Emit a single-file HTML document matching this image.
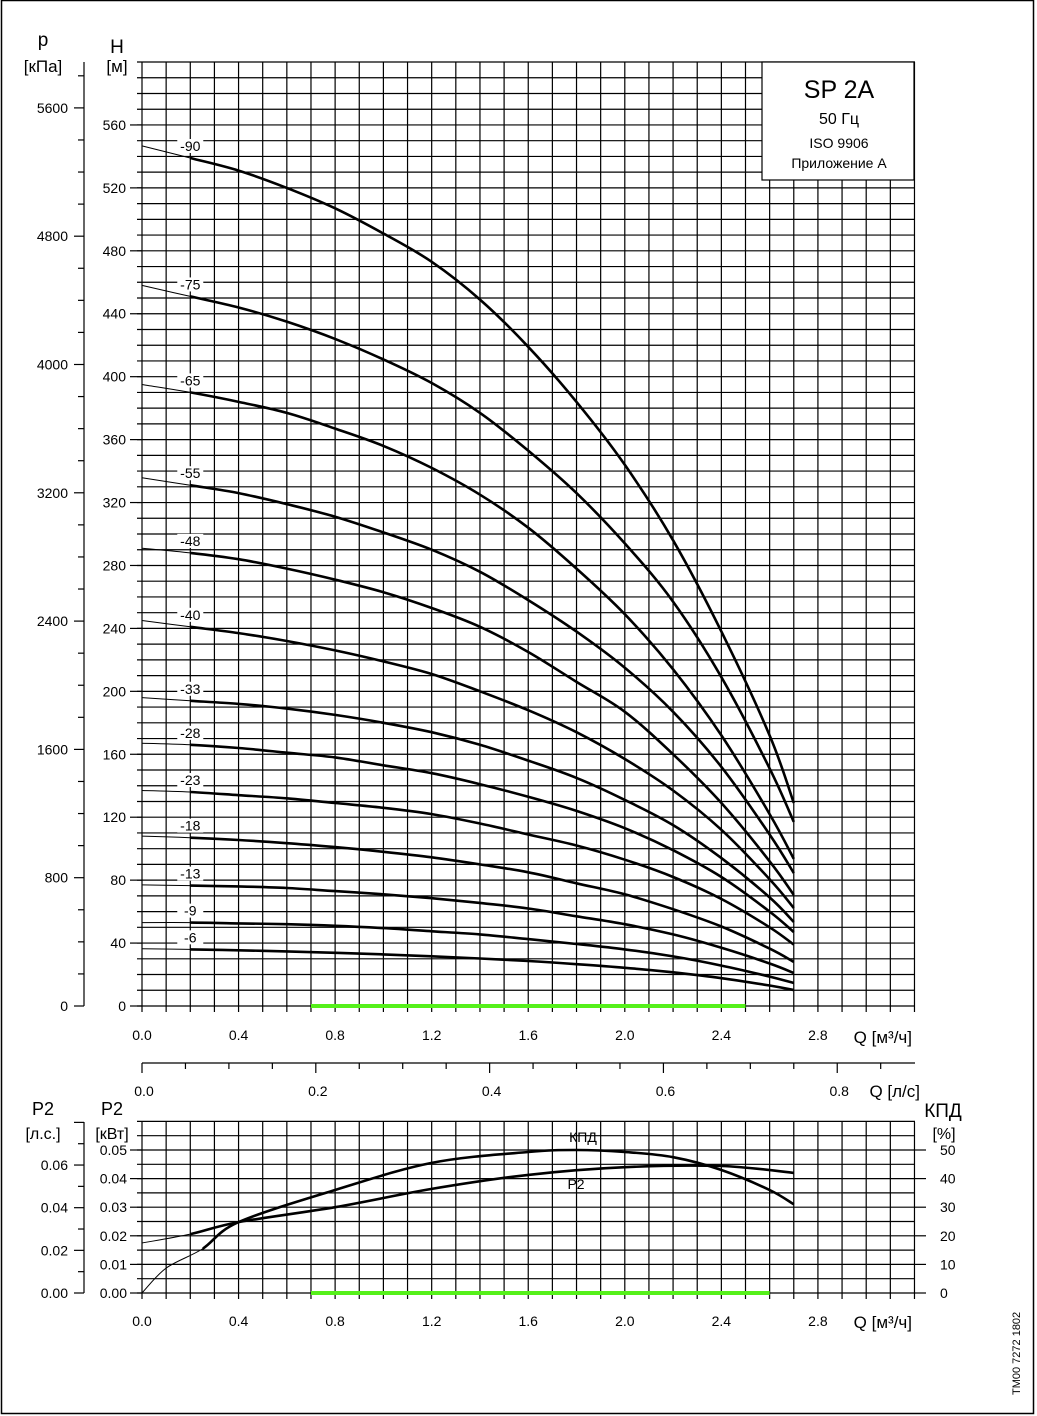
<!DOCTYPE html>
<html><head><meta charset="utf-8"><style>
html,body{margin:0;padding:0;background:#fff}
svg{display:block;font-family:"Liberation Sans",Arial,sans-serif}
</style></head><body>
<svg id="c" width="1037" height="1416" viewBox="0 0 1037 1416" xmlns="http://www.w3.org/2000/svg">
<rect x="1.5" y="0.5" width="1032" height="1413" fill="#fff" stroke="#000" stroke-width="1.5"/>
<defs id="defs"></defs>
<g id="grid"></g>
<g id="axes"></g>
<g id="marks"></g>
<g>
<rect x="762" y="62" width="152" height="118" fill="#fff" stroke="#000" stroke-width="1.2"/>
<text x="839" y="98" font-size="25" text-anchor="middle">SP 2A</text>
<text x="839" y="124" font-size="16" text-anchor="middle">50 Гц</text>
<text x="839" y="148" font-size="14" text-anchor="middle">ISO 9906</text>
<text x="839" y="168" font-size="14" text-anchor="middle">Приложение A</text>
</g>
<text x="43" y="46" font-size="19" text-anchor="middle">p</text>
<text x="43" y="72" font-size="17" text-anchor="middle">[кПа]</text>
<text x="117" y="72" font-size="17" text-anchor="middle">[м]</text>
<text x="117" y="53" font-size="19" text-anchor="middle">H</text>
<text x="912" y="1043" font-size="17" text-anchor="end">Q [м³/ч]</text>
<text x="920" y="1097" font-size="17" text-anchor="end">Q [л/с]</text>
<text x="912" y="1328" font-size="17" text-anchor="end">Q [м³/ч]</text>
<text x="43" y="1115" font-size="18" text-anchor="middle">P2</text>
<text x="43" y="1139" font-size="16" text-anchor="middle">[л.с.]</text>
<text x="112" y="1115" font-size="18" text-anchor="middle">P2</text>
<text x="112" y="1139" font-size="16" text-anchor="middle">[кВт]</text>
<text x="943" y="1117" font-size="19" text-anchor="middle">КПД</text>
<text x="944" y="1139" font-size="16" text-anchor="middle">[%]</text>
<text transform="translate(1020,1395) rotate(-90)" font-size="11">TM00 7272 1802</text>
</svg>
<script>
const qPts=[0,0.2,0.4,0.6,0.8,1.0,1.2,1.4,1.6,1.8,2.0,2.2,2.4,2.6,2.7];
const stageLabels=["-90","-75","-65","-55","-48","-40","-33","-28","-23","-18","-13","-9","-6"];
const h90=[546.7,539,531,520,507,491,473,449,419,384,344,296,238,172,129];
const h75=[458,451,444,435,424,411,396,377,353,326,294,257,209,151,117];
const h65=[395,390,384,377,367,356,342,325,304,278,249,214,172,122,93.5];
const h55=[335.7,331,326,319,311,301,290,276,258,238,215,187,152,109,84.5];
const h48=[291,288,284,278,271,263,253,241,225,206,187,160,129,92,70.6];
const h40=[245,241,237,232,226,219,211,200,188,174,157,137,112,80.6,62.3];
const h33=[196,194,192,189,185,180,174,166,156,145,131,115,94,69,53.4];
const h28=[167,166,164,161,158,153,148,141,133,124,113,99,82,60,47];
const h23=[137,136,134,132,129,126,122,116,109,102,93,82,68,50,39];
const h18=[108,107,105.5,103.5,101,98,94.5,90,85,78,71,61.5,50.5,36.5,28];
const h13=[77,76.5,76,75,73,71,68.5,65.5,62,57,52,45.5,37,27,21];
const h9=[53,53,52.5,52,51,49.5,47.5,45.5,42.5,39.4,36,31.5,25.7,18.7,14.6];
const h6=[36.4,36,35.4,34.7,33.8,32.8,31.6,30.2,28.6,26.6,24.3,21.4,17.7,13,10.2];
const headSeries=[h90,h75,h65,h55,h48,h40,h33,h28,h23,h18,h13,h9,h6];
const p2Q=[0,0.2,0.4,0.8,1.2,1.6,2.0,2.4,2.7];
const p2kW=[0.0175,0.0206,0.0248,0.030,0.0364,0.0413,0.044,0.0444,0.042];
const effQ=[0,0.1,0.25,0.4,0.8,1.2,1.6,1.8,2.0,2.2,2.4,2.6,2.7];
const effPct=[0,8.7,15.4,24.8,36,45.5,49.3,50,49.3,47.5,43,36,31];
const hTicks=[0,40,80,120,160,200,240,280,320,360,400,440,480,520,560];
const pTicks=[0,800,1600,2400,3200,4000,4800,5600];
const qTicks=[0.0,0.4,0.8,1.2,1.6,2.0,2.4,2.8];
const lsTicks=[0.0,0.2,0.4,0.6,0.8];
const kwTicks=[0.00,0.01,0.02,0.03,0.04,0.05];
const hpTicks=[0.00,0.02,0.04,0.06];
const effTicks=[0,10,20,30,40,50];
const opRangeMain=[0.7,2.5];
const opRangeBottom=[0.7,2.6];

const NS="http://www.w3.org/2000/svg";
const xs=q=>142+q*241.4;
const ys=h=>1006-h*1.5733;
const yk=k=>1293-k*2860;
const ye=e=>1293-e*2.86;
function el(tag,attrs,parent,txt){const e=document.createElementNS(NS,tag);for(const k in attrs)e.setAttribute(k,attrs[k]);if(txt!==undefined)e.textContent=txt;parent.appendChild(e);return e;}
const G=document.getElementById('grid'),A=document.getElementById('axes'),M=document.getElementById('marks'),D=document.getElementById('defs');
function line(p,x1,y1,x2,y2,w,name){const l=el('line',{x1,y1,x2,y2,stroke:'#000','stroke-width':w||1},p);

return l;}
function text(p,x,y,s,anchor,size,name){const t=el('text',{x,y,'font-size':size||14,'text-anchor':anchor||'middle'},p,s);

return t;}
for(let i=0;i<=32;i++){line(G,xs(i/10),62,xs(i/10),1012,1.2,'grid-v');}
for(let h=0;h<=600;h+=10){line(G,137,ys(h),915,ys(h),1.2,'grid-h');}
hTicks.forEach(h=>{line(A,130,ys(h),142,ys(h),1.2,'h-tick');text(A,126,ys(h)+5,String(h),'end',14,'h-tick-label');});
line(A,84,62,84,1006,1.2,'p-axis-line');
for(let p=0;p<=5800;p+=200){const y=ys(p/9.81);if(y<62)continue;const major=p%800===0;line(A,major?74:78,y,84,y,1.2,'p-tick');}
pTicks.forEach(p=>text(A,68,ys(p/9.81)+5,String(p),'end',14,'p-tick-label'));
qTicks.forEach(q=>text(A,xs(q),1040,q.toFixed(1),'middle',14,'q-tick-label'));
line(A,142,1063,915,1063,1.2,'ls-axis-line');
for(let i=0;i<=17;i++){const q=i*0.05*3.6;const major=i%4===0;line(A,xs(q),1063,xs(q),major?1073:1069,1.2,'ls-tick');}
lsTicks.forEach(l=>text(A,xs(l*3.6)+2,1096,l.toFixed(1),'middle',14,'ls-tick-label'));
for(let i=0;i<=32;i++){line(G,xs(i/10),1122,xs(i/10),1299,1.2,'grid-v-bottom');}
for(let k=0;k<=12;k++){line(G,137,1293-k*14.3,915,1293-k*14.3,1.2,'grid-h-bottom');}
kwTicks.forEach(k=>{line(A,130,yk(k),142,yk(k),1.2,'kw-tick');text(A,127,yk(k)+5,k.toFixed(2),'end',14,'kw-tick-label');});
line(A,84,1122,84,1293,1.2,'hp-axis-line');
for(let h=0;h<=0.08;h+=0.01){const y=yk(h*0.7457);if(y<1122)continue;line(A,Math.round(h*100)%2===0?74:78,y,84,y,1.2,'hp-tick');}
hpTicks.forEach(h=>text(A,68,yk(h*0.7457)+5,h.toFixed(2),'end',14,'hp-tick-label'));
effTicks.forEach(e=>{line(A,915,ye(e),926,ye(e),1.2,'eff-tick');text(A,940,ye(e)+5,String(e),'start',14,'eff-tick-label');});
qTicks.forEach(q=>text(A,xs(q),1326,q.toFixed(1),'middle',14,'q-tick-label-bottom'));
line(M,xs(opRangeMain[0]),1006,xs(opRangeMain[1]),1006,4,'operating-range-main').setAttribute('stroke','#55f01a');
line(M,xs(opRangeBottom[0]),1293,xs(opRangeBottom[1]),1293,4,'operating-range-bottom').setAttribute('stroke','#55f01a');
function pathD(pts){let d='M'+pts[0][0].toFixed(1)+','+pts[0][1].toFixed(1);
for(let i=0;i<pts.length-1;i++){const p0=pts[i-1]||pts[i],p1=pts[i],p2=pts[i+1],p3=pts[i+2]||p2;
const c1=[p1[0]+(p2[0]-p0[0])/6,p1[1]+(p2[1]-p0[1])/6],c2=[p2[0]-(p3[0]-p1[0])/6,p2[1]-(p3[1]-p1[1])/6];
d+=' C'+c1.map(v=>v.toFixed(1))+' '+c2.map(v=>v.toFixed(1))+' '+p2[0].toFixed(1)+','+p2[1].toFixed(1);}return d;}
let clipN=0;
function drawCurve(qs,vs,yf,splitQ,name){const pts=qs.map((q,i)=>[xs(q),yf(vs[i])]);
const d=pathD(pts);
const a=el('path',{d:d,fill:'none',stroke:'#000','stroke-width':1},M);


const id='clip'+(clipN++);
const cp=el('clipPath',{id:id},D);el('rect',{x:xs(splitQ),y:0,width:1037,height:1416},cp);
const b=el('path',{d:d,fill:'none',stroke:'#000','stroke-width':2.6,'clip-path':'url(#'+id+')'},M);

}
headSeries.forEach((s,i)=>{drawCurve(qPts,s,ys,0.2,'head-curve'+stageLabels[i]);
const bg=el('rect',{x:xs(0.2)-13,y:ys(s[1])-19,width:26,height:14,fill:'#fff'},M);


text(M,xs(0.2),ys(s[1])-7,stageLabels[i],'middle',14,'stage-label');});
drawCurve(p2Q,p2kW,yk,0.2,'p2-curve');
drawCurve(effQ,effPct,ye,0.25,'efficiency-curve');
text(M,583,1142,'КПД','middle',14,'efficiency-curve-label');
text(M,576,1189,'P2','middle',14,'p2-curve-label');
</script>
</body></html>
